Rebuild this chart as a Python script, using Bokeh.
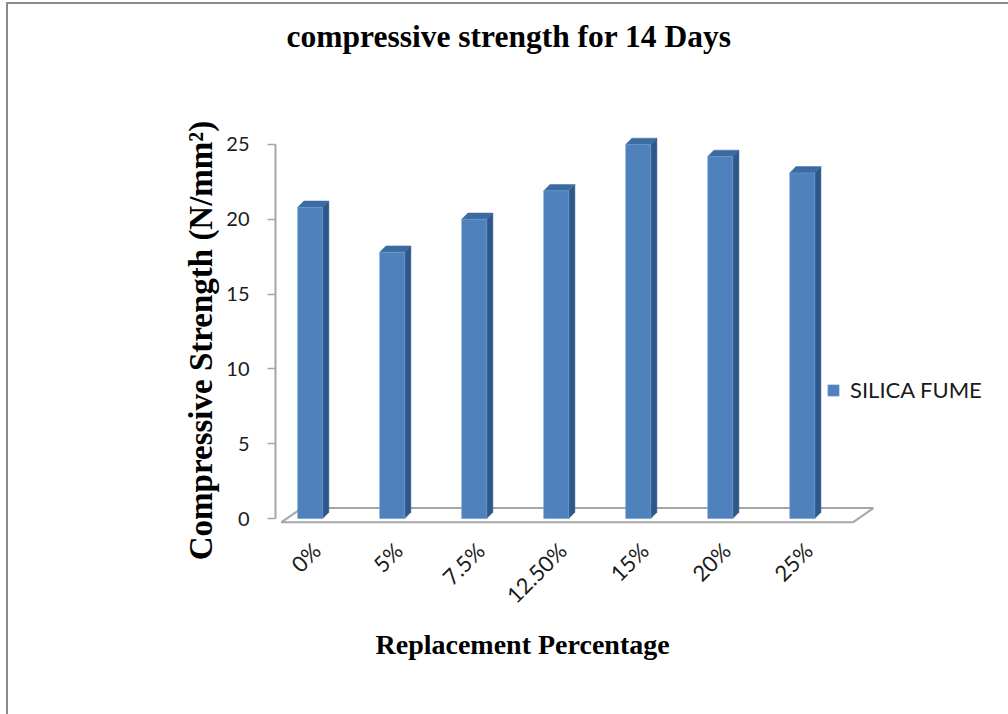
import math
from bokeh.plotting import figure
from bokeh.models import Range1d, FixedTicker, Legend, LegendItem, ColumnDataSource, Title
from bokeh.embed import file_html
from bokeh.resources import INLINE

# ---------------- data ----------------
categories = ["0%", "5%", "7.5%", "12.50%", "15%", "20%", "25%"]
strength = [20.8, 17.8, 20.0, 21.9, 25.0, 24.2, 23.1]
y_ticks = [0, 5, 10, 15, 20, 25]
series_name = "SILICA FUME"
title_text = "compressive strength for 14 Days"
x_title = "Replacement Percentage"
y_title = "Compressive Strength (N/mm\u00b2)"

# ---------------- style ----------------
FRONT = "#4f81bd"
SIDE = "#2f588a"
TOP = "#3c6aa3"
GRAY = "#a6a6a6"
bar_w = 0.305          # front face width (category units)
shift = -0.077         # 3D front-face shift
dx, dy = 0.075, 0.42   # bar depth
fdx, fdy = 0.25, 0.95  # floor depth
floor_y = -0.25

n = len(categories)
xs = [i + 0.5 for i in range(n)]

p = figure(
    x_range=Range1d(0, 8.84), y_range=Range1d(-2.2, 26),
    frame_width=725, frame_height=422,
    min_border_left=267, min_border_right=8, min_border_top=125, min_border_bottom=163,
    output_backend="svg", toolbar_location=None,
    background_fill_color="white", border_fill_color="white",
)
p.title = None
p.outline_line_color = None
p.grid.visible = False
p.styles = {"border-left": "2px solid #8c8c8c", "border-top": "2px solid #8c8c8c",
            "margin-left": "6px", "margin-top": "2px"}

# spacer (nearest the frame) then the real title above it
p.add_layout(Title(text=" ", text_font_size="2px", standoff=72), "above")
p.add_layout(Title(text=title_text, text_font="Liberation Serif", text_font_style="bold",
                   text_font_size="31.5px", text_color="black",
                   align="left", offset=11, vertical_align="bottom", standoff=0), "above")

# floor
x0, x1 = 0.07, n + 0.04
p.multi_line(
    xs=[[x0, x1], [x0 + fdx, x1 + fdx], [x0, x0 + fdx], [x1, x1 + fdx]],
    ys=[[floor_y, floor_y], [floor_y + fdy, floor_y + fdy],
        [floor_y, floor_y + fdy], [floor_y, floor_y + fdy]],
    line_color=GRAY, line_width=2,
)

# 3D bars
fx = [c + shift for c in xs]
side_x, side_y, top_x, top_y = [], [], [], []
for c, v in zip(fx, strength):
    r = c + bar_w / 2
    l = c - bar_w / 2
    side_x.append([r, r + dx, r + dx, r])
    side_y.append([0, dy, v + dy, v])
    top_x.append([l, r, r + dx, l + dx])
    top_y.append([v, v, v + dy, v + dy])
p.patches(side_x, side_y, fill_color=SIDE, line_color=SIDE, line_width=0.5)
p.patches(top_x, top_y, fill_color=TOP, line_color=TOP, line_width=0.5)
src = ColumnDataSource(dict(x=fx, top=strength))
front = p.vbar(x="x", top="top", bottom=0, width=bar_w, source=src,
               fill_color=FRONT, line_color="#6f9bd0", line_width=0.6)

# y axis
ya = p.yaxis[0]
ya.ticker = FixedTicker(ticks=y_ticks)
ya.bounds = (0, 25)
ya.axis_line_color = GRAY
ya.axis_line_width = 2
ya.major_tick_line_color = GRAY
ya.major_tick_line_width = 1.5
ya.major_tick_out = 8
ya.major_tick_in = 0
ya.minor_tick_line_color = None
ya.major_label_text_font = "Lato"
ya.major_label_text_font_size = "20px"
ya.major_label_text_color = "#1a1a1a"
ya.major_label_standoff = 18
ya.axis_label = y_title
ya.axis_label_text_font = "Liberation Serif"
ya.axis_label_text_font_style = "bold"
ya.axis_label_text_font_size = "33px"
ya.axis_label_text_color = "black"
ya.axis_label_standoff = 4

# x axis
xa = p.xaxis[0]
xa.ticker = FixedTicker(ticks=xs)
xa.major_label_overrides = {x: c for x, c in zip(xs, categories)}
xa.axis_line_color = None
xa.major_tick_line_color = None
xa.minor_tick_line_color = None
xa.major_label_orientation = math.pi / 4
xa.major_label_text_font = "Lato"
xa.major_label_text_font_size = "22px"
xa.major_label_text_color = "#1a1a1a"
xa.major_label_standoff = -11

p.add_layout(Title(text=x_title, text_font="Liberation Serif", text_font_style="bold",
                   text_font_size="28px", text_color="black",
                   align="left", offset=100, standoff=13), "below")

# legend
legend = Legend(items=[LegendItem(label=series_name, renderers=[front])],
                location=(551, 148), orientation="vertical",
                glyph_width=14, glyph_height=14, label_height=14,
                label_standoff=10, padding=0, margin=0, spacing=0,
                border_line_color=None, background_fill_alpha=0,
                label_text_font="Lato", label_text_font_size="22px",
                label_text_color="#1a1a1a")
p.add_layout(legend)

open("out.html", "w").write(file_html(p, INLINE))
